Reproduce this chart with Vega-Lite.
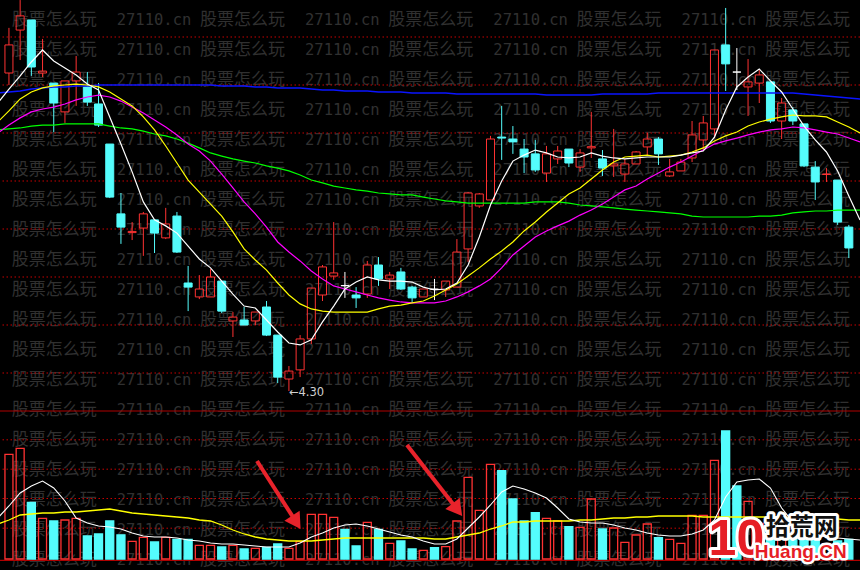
{
"$schema": "https://vega.github.io/schema/vega-lite/v6.json",
"width": 860, "height": 570,
"autosize": {"type": "none"},
"padding": 0,
"background": "#000000",
"config": {"view": {"stroke": null}},
"datasets": {
"k": [
{"i":0,"o":5.625,"c":5.742,"h":5.813,"l":5.575,"v":1047,"d":"up"},
{"i":1,"o":5.804,"c":5.863,"h":5.929,"l":5.679,"v":1107,"d":"up"},
{"i":2,"o":5.846,"c":5.65,"h":5.846,"l":5.613,"v":567,"d":"down"},
{"i":3,"o":5.625,"c":5.633,"h":5.767,"l":5.608,"v":407,"d":"up"},
{"i":4,"o":5.583,"c":5.5,"h":5.583,"l":5.379,"v":380,"d":"down"},
{"i":5,"o":5.463,"c":5.592,"h":5.592,"l":5.417,"v":390,"d":"up"},
{"i":6,"o":5.592,"c":5.629,"h":5.696,"l":5.488,"v":407,"d":"up"},
{"i":7,"o":5.567,"c":5.504,"h":5.629,"l":5.488,"v":230,"d":"down"},
{"i":8,"o":5.496,"c":5.408,"h":5.583,"l":5.4,"v":250,"d":"down"},
{"i":9,"o":5.329,"c":5.108,"h":5.329,"l":5.104,"v":380,"d":"down"},
{"i":10,"o":5.038,"c":4.983,"h":5.125,"l":4.913,"v":240,"d":"down"},
{"i":11,"o":4.96,"c":4.965,"h":5.004,"l":4.929,"v":177,"d":"up"},
{"i":12,"o":4.979,"c":5.038,"h":5.046,"l":4.863,"v":217,"d":"up"},
{"i":13,"o":5.013,"c":4.958,"h":5.013,"l":4.875,"v":170,"d":"down"},
{"i":14,"o":4.938,"c":4.996,"h":5.063,"l":4.933,"v":217,"d":"up"},
{"i":15,"o":5.029,"c":4.879,"h":5.046,"l":4.875,"v":197,"d":"down"},
{"i":16,"o":4.75,"c":4.733,"h":4.821,"l":4.633,"v":197,"d":"down"},
{"i":17,"o":4.692,"c":4.725,"h":4.783,"l":4.683,"v":137,"d":"up"},
{"i":18,"o":4.692,"c":4.775,"h":4.808,"l":4.692,"v":137,"d":"up"},
{"i":19,"o":4.758,"c":4.633,"h":4.758,"l":4.625,"v":120,"d":"down"},
{"i":20,"o":4.592,"c":4.608,"h":4.629,"l":4.525,"v":137,"d":"up"},
{"i":21,"o":4.596,"c":4.575,"h":4.65,"l":4.575,"v":100,"d":"down"},
{"i":22,"o":4.592,"c":4.629,"h":4.629,"l":4.575,"v":107,"d":"up"},
{"i":23,"o":4.65,"c":4.533,"h":4.675,"l":4.529,"v":117,"d":"down"},
{"i":24,"o":4.533,"c":4.358,"h":4.533,"l":4.333,"v":150,"d":"down"},
{"i":25,"o":4.35,"c":4.383,"h":4.404,"l":4.30,"v":107,"d":"up"},
{"i":26,"o":4.388,"c":4.517,"h":4.533,"l":4.358,"v":173,"d":"up"},
{"i":27,"o":4.517,"c":4.729,"h":4.729,"l":4.496,"v":447,"d":"up"},
{"i":28,"o":4.70,"c":4.817,"h":4.825,"l":4.675,"v":447,"d":"up"},
{"i":29,"o":4.779,"c":4.792,"h":5.004,"l":4.763,"v":417,"d":"up"},
{"i":30,"o":4.739,"c":4.739,"h":4.796,"l":4.688,"v":297,"d":"flat"},
{"i":31,"o":4.70,"c":4.688,"h":4.733,"l":4.646,"v":130,"d":"down"},
{"i":32,"o":4.704,"c":4.825,"h":4.842,"l":4.688,"v":367,"d":"up"},
{"i":33,"o":4.825,"c":4.767,"h":4.858,"l":4.738,"v":297,"d":"down"},
{"i":34,"o":4.767,"c":4.783,"h":4.796,"l":4.725,"v":157,"d":"up"},
{"i":35,"o":4.796,"c":4.725,"h":4.813,"l":4.721,"v":180,"d":"down"},
{"i":36,"o":4.733,"c":4.688,"h":4.738,"l":4.671,"v":100,"d":"down"},
{"i":37,"o":4.692,"c":4.725,"h":4.725,"l":4.692,"v":87,"d":"up"},
{"i":38,"o":4.724,"c":4.724,"h":4.767,"l":4.679,"v":113,"d":"flat"},
{"i":39,"o":4.721,"c":4.758,"h":4.758,"l":4.692,"v":123,"d":"up"},
{"i":40,"o":4.733,"c":4.879,"h":4.933,"l":4.733,"v":380,"d":"up"},
{"i":41,"o":4.892,"c":5.125,"h":5.129,"l":4.838,"v":817,"d":"up"},
{"i":42,"o":5.071,"c":5.121,"h":5.125,"l":5.063,"v":487,"d":"up"},
{"i":43,"o":5.096,"c":5.35,"h":5.363,"l":5.096,"v":947,"d":"up"},
{"i":44,"o":5.358,"c":5.354,"h":5.488,"l":5.263,"v":883,"d":"down"},
{"i":45,"o":5.35,"c":5.338,"h":5.404,"l":5.288,"v":600,"d":"down"},
{"i":46,"o":5.308,"c":5.275,"h":5.35,"l":5.208,"v":380,"d":"down"},
{"i":47,"o":5.288,"c":5.221,"h":5.346,"l":5.213,"v":463,"d":"down"},
{"i":48,"o":5.208,"c":5.288,"h":5.321,"l":5.171,"v":407,"d":"up"},
{"i":49,"o":5.267,"c":5.30,"h":5.321,"l":5.246,"v":380,"d":"up"},
{"i":50,"o":5.308,"c":5.25,"h":5.308,"l":5.233,"v":323,"d":"down"},
{"i":51,"o":5.233,"c":5.292,"h":5.308,"l":5.213,"v":317,"d":"up"},
{"i":52,"o":5.313,"c":5.318,"h":5.463,"l":5.271,"v":600,"d":"up"},
{"i":53,"o":5.267,"c":5.229,"h":5.304,"l":5.196,"v":300,"d":"down"},
{"i":54,"o":5.238,"c":5.246,"h":5.392,"l":5.192,"v":310,"d":"up"},
{"i":55,"o":5.204,"c":5.246,"h":5.267,"l":5.171,"v":167,"d":"up"},
{"i":56,"o":5.246,"c":5.296,"h":5.30,"l":5.246,"v":240,"d":"up"},
{"i":57,"o":5.317,"c":5.35,"h":5.375,"l":5.283,"v":350,"d":"up"},
{"i":58,"o":5.35,"c":5.288,"h":5.358,"l":5.242,"v":213,"d":"down"},
{"i":59,"o":5.196,"c":5.213,"h":5.267,"l":5.192,"v":197,"d":"up"},
{"i":60,"o":5.217,"c":5.254,"h":5.267,"l":5.217,"v":157,"d":"up"},
{"i":61,"o":5.271,"c":5.367,"h":5.425,"l":5.254,"v":437,"d":"up"},
{"i":62,"o":5.346,"c":5.417,"h":5.446,"l":5.304,"v":437,"d":"up"},
{"i":63,"o":5.392,"c":5.721,"h":5.721,"l":5.354,"v":987,"d":"up"},
{"i":64,"o":5.742,"c":5.663,"h":5.896,"l":5.55,"v":1280,"d":"down"},
{"i":65,"o":5.629,"c":5.629,"h":5.729,"l":5.554,"v":730,"d":"flat"},
{"i":66,"o":5.567,"c":5.588,"h":5.683,"l":5.446,"v":577,"d":"up"},
{"i":67,"o":5.583,"c":5.617,"h":5.638,"l":5.50,"v":357,"d":"up"},
{"i":68,"o":5.588,"c":5.425,"h":5.588,"l":5.417,"v":330,"d":"down"},
{"i":69,"o":5.425,"c":5.50,"h":5.521,"l":5.35,"v":400,"d":"up"},
{"i":70,"o":5.471,"c":5.425,"h":5.483,"l":5.408,"v":250,"d":"down"},
{"i":71,"o":5.413,"c":5.238,"h":5.413,"l":5.233,"v":300,"d":"down"},
{"i":72,"o":5.233,"c":5.171,"h":5.258,"l":5.096,"v":250,"d":"down"},
{"i":73,"o":5.202,"c":5.204,"h":5.229,"l":5.171,"v":150,"d":"up"},
{"i":74,"o":5.179,"c":5.004,"h":5.179,"l":4.992,"v":180,"d":"down"},
{"i":75,"o":4.983,"c":4.896,"h":4.992,"l":4.854,"v":197,"d":"down"}
],
"ma": [
{"i":-1,"a5":5.500,"a10":5.421,"a20":5.375,"a60":5.388,"a120":5.542},
{"i":0,"a5":5.558,"a10":5.467,"a20":5.408,"a60":5.392,"a120":5.546},
{"i":1,"a5":5.613,"a10":5.517,"a20":5.438,"a60":5.396,"a120":5.550},
{"i":2,"a5":5.671,"a10":5.546,"a20":5.463,"a60":5.404,"a120":5.558},
{"i":3,"a5":5.721,"a10":5.563,"a20":5.475,"a60":5.408,"a120":5.563},
{"i":4,"a5":5.675,"a10":5.571,"a20":5.483,"a60":5.408,"a120":5.567},
{"i":5,"a5":5.646,"a10":5.575,"a20":5.496,"a60":5.413,"a120":5.567},
{"i":6,"a5":5.617,"a10":5.579,"a20":5.513,"a60":5.413,"a120":5.571},
{"i":7,"a5":5.579,"a10":5.575,"a20":5.525,"a60":5.413,"a120":5.571},
{"i":8,"a5":5.554,"a10":5.567,"a20":5.533,"a60":5.413,"a120":5.575},
{"i":9,"a5":5.442,"a10":5.546,"a20":5.525,"a60":5.404,"a120":5.575},
{"i":10,"a5":5.329,"a10":5.517,"a20":5.508,"a60":5.396,"a120":5.575},
{"i":11,"a5":5.213,"a10":5.488,"a20":5.483,"a60":5.392,"a120":5.575},
{"i":12,"a5":5.088,"a10":5.442,"a20":5.458,"a60":5.383,"a120":5.575},
{"i":13,"a5":5.013,"a10":5.388,"a20":5.429,"a60":5.371,"a120":5.575},
{"i":14,"a5":4.988,"a10":5.321,"a20":5.400,"a60":5.363,"a120":5.575},
{"i":15,"a5":4.958,"a10":5.250,"a20":5.367,"a60":5.350,"a120":5.575},
{"i":16,"a5":4.904,"a10":5.179,"a20":5.329,"a60":5.333,"a120":5.575},
{"i":17,"a5":4.850,"a10":5.129,"a20":5.300,"a60":5.313,"a120":5.575},
{"i":18,"a5":4.813,"a10":5.079,"a20":5.258,"a60":5.292,"a120":5.575},
{"i":19,"a5":4.758,"a10":5.029,"a20":5.204,"a60":5.279,"a120":5.571},
{"i":20,"a5":4.704,"a10":4.963,"a20":5.146,"a60":5.267,"a120":5.571},
{"i":21,"a5":4.654,"a10":4.892,"a20":5.088,"a60":5.258,"a120":5.571},
{"i":22,"a5":4.646,"a10":4.846,"a20":5.038,"a60":5.250,"a120":5.567},
{"i":23,"a5":4.596,"a10":4.804,"a20":4.983,"a60":5.238,"a120":5.567},
{"i":24,"a5":4.546,"a10":4.750,"a20":4.921,"a60":5.229,"a120":5.563},
{"i":25,"a5":4.500,"a10":4.700,"a20":4.879,"a60":5.217,"a120":5.563},
{"i":26,"a5":4.492,"a10":4.663,"a20":4.842,"a60":5.200,"a120":5.563},
{"i":27,"a5":4.513,"a10":4.642,"a20":4.800,"a60":5.179,"a120":5.558},
{"i":28,"a5":4.588,"a10":4.633,"a20":4.767,"a60":5.167,"a120":5.554},
{"i":29,"a5":4.654,"a10":4.629,"a20":4.738,"a60":5.154,"a120":5.554},
{"i":30,"a5":4.725,"a10":4.629,"a20":4.725,"a60":5.146,"a120":5.550},
{"i":31,"a5":4.754,"a10":4.629,"a20":4.713,"a60":5.138,"a120":5.550},
{"i":32,"a5":4.775,"a10":4.629,"a20":4.700,"a60":5.133,"a120":5.550},
{"i":33,"a5":4.763,"a10":4.642,"a20":4.688,"a60":5.125,"a120":5.546},
{"i":34,"a5":4.758,"a10":4.654,"a20":4.679,"a60":5.121,"a120":5.546},
{"i":35,"a5":4.758,"a10":4.658,"a20":4.671,"a60":5.117,"a120":5.546},
{"i":36,"a5":4.754,"a10":4.667,"a20":4.667,"a60":5.117,"a120":5.542},
{"i":37,"a5":4.733,"a10":4.675,"a20":4.667,"a60":5.108,"a120":5.542},
{"i":38,"a5":4.721,"a10":4.696,"a20":4.667,"a60":5.100,"a120":5.542},
{"i":39,"a5":4.725,"a10":4.721,"a20":4.675,"a60":5.092,"a120":5.542},
{"i":40,"a5":4.750,"a10":4.746,"a20":4.692,"a60":5.088,"a120":5.538},
{"i":41,"a5":4.825,"a10":4.779,"a20":4.713,"a60":5.083,"a120":5.538},
{"i":42,"a5":4.942,"a10":4.813,"a20":4.738,"a60":5.083,"a120":5.538},
{"i":43,"a5":5.075,"a10":4.850,"a20":4.767,"a60":5.083,"a120":5.538},
{"i":44,"a5":5.175,"a10":4.883,"a20":4.813,"a60":5.083,"a120":5.538},
{"i":45,"a5":5.258,"a10":4.921,"a20":4.867,"a60":5.083,"a120":5.538},
{"i":46,"a5":5.283,"a10":4.967,"a20":4.904,"a60":5.083,"a120":5.538},
{"i":47,"a5":5.304,"a10":5.004,"a20":4.942,"a60":5.088,"a120":5.538},
{"i":48,"a5":5.292,"a10":5.046,"a20":4.967,"a60":5.088,"a120":5.533},
{"i":49,"a5":5.275,"a10":5.083,"a20":4.988,"a60":5.088,"a120":5.533},
{"i":50,"a5":5.271,"a10":5.121,"a20":5.008,"a60":5.083,"a120":5.533},
{"i":51,"a5":5.275,"a10":5.146,"a20":5.033,"a60":5.075,"a120":5.533},
{"i":52,"a5":5.292,"a10":5.183,"a20":5.054,"a60":5.071,"a120":5.533},
{"i":53,"a5":5.279,"a10":5.221,"a20":5.079,"a60":5.067,"a120":5.538},
{"i":54,"a5":5.271,"a10":5.254,"a20":5.108,"a60":5.063,"a120":5.538},
{"i":55,"a5":5.267,"a10":5.275,"a20":5.138,"a60":5.058,"a120":5.538},
{"i":56,"a5":5.271,"a10":5.279,"a20":5.154,"a60":5.054,"a120":5.538},
{"i":57,"a5":5.275,"a10":5.283,"a20":5.183,"a60":5.050,"a120":5.538},
{"i":58,"a5":5.275,"a10":5.275,"a20":5.208,"a60":5.046,"a120":5.542},
{"i":59,"a5":5.275,"a10":5.279,"a20":5.233,"a60":5.042,"a120":5.542},
{"i":60,"a5":5.283,"a10":5.283,"a20":5.254,"a60":5.038,"a120":5.542},
{"i":61,"a5":5.292,"a10":5.296,"a20":5.279,"a60":5.029,"a120":5.542},
{"i":62,"a5":5.300,"a10":5.313,"a20":5.304,"a60":5.025,"a120":5.542},
{"i":63,"a5":5.358,"a10":5.342,"a20":5.329,"a60":5.025,"a120":5.542},
{"i":64,"a5":5.471,"a10":5.363,"a20":5.342,"a60":5.025,"a120":5.542},
{"i":65,"a5":5.567,"a10":5.379,"a20":5.354,"a60":5.025,"a120":5.542},
{"i":66,"a5":5.608,"a10":5.404,"a20":5.367,"a60":5.025,"a120":5.542},
{"i":67,"a5":5.642,"a10":5.421,"a20":5.379,"a60":5.029,"a120":5.542},
{"i":68,"a5":5.592,"a10":5.433,"a20":5.388,"a60":5.029,"a120":5.542},
{"i":69,"a5":5.546,"a10":5.442,"a20":5.392,"a60":5.033,"a120":5.542},
{"i":70,"a5":5.475,"a10":5.450,"a20":5.400,"a60":5.042,"a120":5.542},
{"i":71,"a5":5.404,"a10":5.446,"a20":5.396,"a60":5.046,"a120":5.538},
{"i":72,"a5":5.346,"a10":5.446,"a20":5.388,"a60":5.050,"a120":5.533},
{"i":73,"a5":5.296,"a10":5.442,"a20":5.379,"a60":5.050,"a120":5.529},
{"i":74,"a5":5.217,"a10":5.421,"a20":5.371,"a60":5.054,"a120":5.525},
{"i":75,"a5":5.113,"a10":5.400,"a20":5.354,"a60":5.054,"a120":5.521},
{"i":76,"a5":5.013,"a10":5.375,"a20":5.338,"a60":5.054,"a120":5.517}
],
"vma": [
{"i":-1,"w":410,"y":350},{"i":0,"w":530,"y":390},{"i":1,"w":660,"y":440},{"i":2,"w":730,"y":450},
{"i":3,"w":780,"y":460},{"i":4,"w":710,"y":460},{"i":5,"w":580,"y":470},{"i":6,"w":410,"y":470},
{"i":7,"w":360,"y":480},{"i":8,"w":330,"y":490},{"i":9,"w":320,"y":500},{"i":10,"w":300,"y":480},
{"i":11,"w":260,"y":460},{"i":12,"w":230,"y":450},{"i":13,"w":220,"y":440},{"i":14,"w":220,"y":430},
{"i":15,"w":210,"y":420},{"i":16,"w":190,"y":410},{"i":17,"w":180,"y":390},{"i":18,"w":160,"y":380},
{"i":19,"w":150,"y":340},{"i":20,"w":150,"y":290},{"i":21,"w":140,"y":250},{"i":22,"w":130,"y":220},
{"i":23,"w":120,"y":200},{"i":24,"w":120,"y":190},{"i":25,"w":120,"y":180},{"i":26,"w":160,"y":180},
{"i":27,"w":220,"y":180},{"i":28,"w":260,"y":190},{"i":29,"w":310,"y":200},{"i":30,"w":340,"y":210},
{"i":31,"w":350,"y":210},{"i":32,"w":330,"y":210},{"i":33,"w":300,"y":210},{"i":34,"w":270,"y":210},
{"i":35,"w":240,"y":210},{"i":36,"w":220,"y":210},{"i":37,"w":180,"y":210},{"i":38,"w":150,"y":200},
{"i":39,"w":150,"y":200},{"i":40,"w":200,"y":220},{"i":41,"w":310,"y":240},{"i":42,"w":420,"y":260},
{"i":43,"w":540,"y":300},{"i":44,"w":670,"y":330},{"i":45,"w":730,"y":370},{"i":46,"w":700,"y":370},
{"i":47,"w":660,"y":380},{"i":48,"w":610,"y":380},{"i":49,"w":510,"y":380},{"i":50,"w":400,"y":380},
{"i":51,"w":370,"y":390},{"i":52,"w":360,"y":390},{"i":53,"w":360,"y":400},{"i":54,"w":340,"y":410},
{"i":55,"w":310,"y":410},{"i":56,"w":290,"y":420},{"i":57,"w":260,"y":420},{"i":58,"w":240,"y":430},
{"i":59,"w":230,"y":430},{"i":60,"w":230,"y":430},{"i":61,"w":250,"y":430},{"i":62,"w":290,"y":420},
{"i":63,"w":390,"y":420},{"i":64,"w":620,"y":420},{"i":65,"w":770,"y":420},{"i":66,"w":790,"y":420},
{"i":67,"w":800,"y":420},{"i":68,"w":710,"y":420},{"i":69,"w":510,"y":420},{"i":70,"w":370,"y":410},
{"i":71,"w":290,"y":410},{"i":72,"w":250,"y":410},{"i":73,"w":220,"y":400},{"i":74,"w":210,"y":400},
{"i":75,"w":200,"y":390},{"i":76,"w":190,"y":390}
]
},
"layer": [
{
"data": {"values": [{"r": [0,1,2,3,4,5,6,7,8,9,10,11,12,13,14,15,16,17,18], "c": [0,1,2,3,4]}]},
"transform": [{"flatten": ["r"]}, {"flatten": ["c"]}],
"encoding": {
"x": {"field": "c", "type": "quantitative", "scale": {"domain": [-0.0621, 4.505], "nice": false, "zero": false}, "axis": null},
"y": {"field": "r", "type": "quantitative", "scale": {"domain": [-0.6667, 18.3333], "reverse": true, "nice": false, "zero": false}, "axis": null}
},
"layer": [
{"mark": {"type": "text", "text": "股票怎么玩", "align": "left", "baseline": "middle", "font": "Noto Sans CJK SC", "fontSize": 17, "color": "#303030"}},
{"mark": {"type": "text", "text": "27110.cn", "align": "left", "baseline": "middle", "dx": 105, "font": "DejaVu Sans Mono", "fontSize": 15.5, "color": "#303030"}}
]
},
{
"data": {"name": "k"},
"layer": [
{
"data": {"values": [{"g":5.775},{"g":5.575},{"g":5.375},{"g":5.175},{"g":4.975},{"g":4.775},{"g":4.575},{"g":4.375}]},
"mark": {"type": "rule", "color": "#c80000", "strokeDash": [1.5, 2.5], "strokeWidth": 1},
"encoding": {"y": {"field": "g", "type": "quantitative", "scale": {"domain": [3.5542, 5.9292], "nice": false, "zero": false}, "axis": null}}
},
{
"transform": [{"filter": {"field": "d", "equal": "up"}}],
"layer": [
{"mark": {"type": "rule", "color": "#ff3232", "strokeWidth": 1},
 "encoding": {"x": {"field": "i", "type": "quantitative", "scale": {"domain": [-0.353, 75.55], "nice": false, "zero": false}, "axis": null},
 "y": {"field": "h", "type": "quantitative", "scale": {"domain": [3.5542, 5.9292], "nice": false, "zero": false}, "axis": null}, "y2": {"field": "c"}}},
{"mark": {"type": "rule", "color": "#ff3232", "strokeWidth": 1},
 "encoding": {"x": {"field": "i", "type": "quantitative", "axis": null},
 "y": {"field": "o", "type": "quantitative", "axis": null}, "y2": {"field": "l"}}}
]
},
{
"transform": [{"filter": {"field": "d", "equal": "down"}}],
"layer": [
{"mark": {"type": "rule", "color": "#54fcfc", "strokeWidth": 1},
 "encoding": {"x": {"field": "i", "type": "quantitative", "axis": null},
 "y": {"field": "h", "type": "quantitative", "axis": null}, "y2": {"field": "o"}}},
{"mark": {"type": "rule", "color": "#54fcfc", "strokeWidth": 1},
 "encoding": {"x": {"field": "i", "type": "quantitative", "axis": null},
 "y": {"field": "c", "type": "quantitative", "axis": null}, "y2": {"field": "l"}}}
]
},
{
"transform": [{"filter": {"field": "d", "equal": "flat"}}],
"mark": {"type": "rule", "color": "#ffffff", "strokeWidth": 1},
"encoding": {"x": {"field": "i", "type": "quantitative", "axis": null},
"y": {"field": "h", "type": "quantitative", "axis": null}, "y2": {"field": "l"}}
},
{
"mark": {"type": "bar", "width": 8, "orient": "vertical", "strokeWidth": 1},
"encoding": {
"x": {"field": "i", "type": "quantitative", "axis": null},
"y": {"field": "o", "type": "quantitative", "axis": null},
"y2": {"field": "c"},
"fill": {"field": "d", "type": "nominal", "scale": {"domain": ["up","down","flat"], "range": ["transparent","#54fcfc","#ffffff"]}, "legend": null},
"stroke": {"field": "d", "type": "nominal", "scale": {"domain": ["up","down","flat"], "range": ["#ff3232","#54fcfc","#ffffff"]}, "legend": null}
}
},
{
"data": {"name": "ma"},
"encoding": {"x": {"field": "i", "type": "quantitative", "axis": null}},
"layer": [
{"mark": {"type": "line", "color": "#0a14ff", "strokeWidth": 1.5, "clip": true}, "encoding": {"y": {"field": "a120", "type": "quantitative", "axis": null}}},
{"mark": {"type": "line", "color": "#00ff00", "strokeWidth": 1.2, "clip": true}, "encoding": {"y": {"field": "a60", "type": "quantitative", "axis": null}}},
{"mark": {"type": "line", "color": "#ff00ff", "strokeWidth": 1.2, "clip": true}, "encoding": {"y": {"field": "a20", "type": "quantitative", "axis": null}}},
{"mark": {"type": "line", "color": "#ffff00", "strokeWidth": 1.2, "clip": true}, "encoding": {"y": {"field": "a10", "type": "quantitative", "axis": null}}},
{"mark": {"type": "line", "color": "#ffffff", "strokeWidth": 1.2, "clip": true}, "encoding": {"y": {"field": "a5", "type": "quantitative", "axis": null}}}
]
},
{
"data": {"values": [{"i": 25, "p": 4.30, "t": "←4.30"}]},
"mark": {"type": "text", "align": "left", "baseline": "middle", "dy": 2, "font": "DejaVu Sans", "fontSize": 11.5, "color": "#d0d0d0"},
"encoding": {"x": {"field": "i", "type": "quantitative", "axis": null}, "y": {"field": "p", "type": "quantitative", "axis": null}, "text": {"field": "t"}}
}
]
},
{
"data": {"name": "k"},
"layer": [
{
"data": {"values": [{"g":1480,"s":"solid"},{"g":-13,"s":"solid"}]},
"mark": {"type": "rule", "color": "#b00000", "strokeWidth": 1.2},
"encoding": {"y": {"field": "g", "type": "quantitative", "scale": {"domain": [-110, 5590], "nice": false, "zero": false}, "axis": null}}
},
{
"data": {"values": [{"g":1192},{"g":898},{"g":605},{"g":308}]},
"mark": {"type": "rule", "color": "#c80000", "strokeDash": [1.5, 2.5], "strokeWidth": 1},
"encoding": {"y": {"field": "g", "type": "quantitative", "axis": null}}
},
{
"mark": {"type": "bar", "width": 8, "orient": "vertical", "strokeWidth": 1.3},
"encoding": {
"x": {"field": "i", "type": "quantitative", "scale": {"domain": [-0.353, 75.55], "nice": false, "zero": false}, "axis": null},
"y": {"field": "v", "type": "quantitative", "axis": null},
"fill": {"field": "d", "type": "nominal", "scale": {"domain": ["up","down","flat"], "range": ["transparent","#54fcfc","#54fcfc"]}, "legend": null},
"stroke": {"field": "d", "type": "nominal", "scale": {"domain": ["up","down","flat"], "range": ["#ff3232","#54fcfc","#54fcfc"]}, "legend": null}
}
},
{
"data": {"name": "vma"},
"encoding": {"x": {"field": "i", "type": "quantitative", "axis": null}},
"layer": [
{"mark": {"type": "line", "color": "#ffff00", "strokeWidth": 1.3, "clip": true}, "encoding": {"y": {"field": "y", "type": "quantitative", "axis": null}}},
{"mark": {"type": "line", "color": "#ffffff", "strokeWidth": 1.1, "clip": true}, "encoding": {"y": {"field": "w", "type": "quantitative", "axis": null}}}
]
},
{
"data": {"values": [{"x1": 22.15, "v1": 980, "x2": 25.37, "v2": 418}, {"x1": 35.54, "v1": 1140, "x2": 39.72, "v2": 540}]},
"mark": {"type": "rule", "color": "#e8232b", "strokeWidth": 4, "strokeCap": "butt"},
"encoding": {"x": {"field": "x1", "type": "quantitative", "axis": null}, "x2": {"field": "x2"}, "y": {"field": "v1", "type": "quantitative", "axis": null}, "y2": {"field": "v2"}}
},
{
"data": {"values": [{"x": 25.66, "vv": 367, "a": 327}, {"x": 40.04, "vv": 493, "a": 322}]},
"mark": {"type": "point", "shape": "triangle-down", "filled": true, "color": "#e8232b", "opacity": 1, "size": 330},
"encoding": {"x": {"field": "x", "type": "quantitative", "axis": null}, "y": {"field": "vv", "type": "quantitative", "axis": null}, "angle": {"field": "a", "type": "quantitative", "scale": null}}
},
{
"data": {"values": [{"x": 64.96, "vv": 190, "t": "10"}]},
"encoding": {"x": {"field": "x", "type": "quantitative", "axis": null}, "y": {"field": "vv", "type": "quantitative", "axis": null}, "text": {"field": "t"}},
"layer": [
{"mark": {"type": "text", "align": "center", "baseline": "middle", "font": "Liberation Sans", "fontWeight": "bold", "fontSize": 50, "fill": "#ffffff", "stroke": "#ffffff", "strokeWidth": 6, "strokeJoin": "round"}},
{"mark": {"type": "text", "align": "center", "baseline": "middle", "font": "Liberation Sans", "fontWeight": "bold", "fontSize": 50, "fill": "#e61e25"}}
]
},
{
"data": {"values": [{"x": 70.8, "vv": 310, "t": "拾荒网"}]},
"encoding": {"x": {"field": "x", "type": "quantitative", "axis": null}, "y": {"field": "vv", "type": "quantitative", "axis": null}, "text": {"field": "t"}},
"layer": [
{"mark": {"type": "text", "align": "center", "baseline": "middle", "font": "Noto Sans CJK SC", "fontWeight": "bold", "fontSize": 24, "fill": "#ffffff", "stroke": "#ffffff", "strokeWidth": 6, "strokeJoin": "round"}},
{"mark": {"type": "text", "align": "center", "baseline": "middle", "font": "Noto Sans CJK SC", "fontWeight": "bold", "fontSize": 24, "fill": "#111111"}}
]
},
{
"data": {"values": [{"x": 70.7, "vv": 70, "t": "Huang.CN"}]},
"encoding": {"x": {"field": "x", "type": "quantitative", "axis": null}, "y": {"field": "vv", "type": "quantitative", "axis": null}, "text": {"field": "t"}},
"layer": [
{"mark": {"type": "text", "align": "center", "baseline": "middle", "font": "Liberation Sans", "fontWeight": "bold", "fontSize": 19, "fill": "#ffffff", "stroke": "#ffffff", "strokeWidth": 5, "strokeJoin": "round"}},
{"mark": {"type": "text", "align": "center", "baseline": "middle", "font": "Liberation Sans", "fontWeight": "bold", "fontSize": 19, "fill": "#e61e25"}}
]
}
]
}
],
"resolve": {"scale": {"x": "independent", "y": "independent", "fill": "independent", "stroke": "independent", "color": "independent", "angle": "independent"}}
}
